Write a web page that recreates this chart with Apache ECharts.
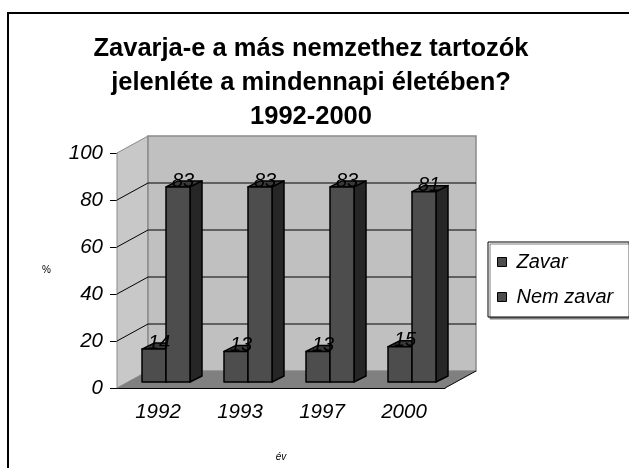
<!DOCTYPE html>
<html>
<head>
<meta charset="utf-8">
<script src="https://cdn.jsdelivr.net/npm/echarts@6/dist/echarts.min.js"></script>
<style>html,body{margin:0;padding:0;background:#fff}#chart{width:629px;height:468px}</style>
</head>
<body>
<div id="chart"></div>
<script>
const years = ['1992', '1993', '1997', '2000']
const zavar = [14, 13, 13, 15]
const nemZavar = [83, 83, 83, 81]
const gridValues = [20, 40, 60, 80]

const FONT = '"Liberation Sans", Arial, sans-serif'
// fake 3d: wall depth and bar depth in px
const DX = 31, DY = -17
const BDX = 12, BDY = -6
const BW = 24
const SHIFT_X = 8, SHIFT_Y = -6

function wallItem(params, api) {
  const cs = params.coordSys
  const x0 = cs.x, x1 = cs.x + cs.width
  const yT = cs.y, yB = cs.y + cs.height
  const children = [
    { type: 'polygon', shape: { points: [[x0, yT], [x0 + DX, yT + DY], [x0 + DX, yB + DY], [x0, yB]] },
      style: { fill: '#c8c8c8', stroke: '#8a8a8a', lineWidth: 1 } },
    { type: 'rect', shape: { x: x0 + DX, y: yT + DY, width: cs.width, height: cs.height },
      style: { fill: '#c0c0c0', stroke: '#8a8a8a', lineWidth: 1.5 } },
    { type: 'polygon', shape: { points: [[x0, yB], [x1, yB], [x1 + DX, yB + DY], [x0 + DX, yB + DY]] },
      style: { fill: '#808080' } },
    { type: 'line', shape: { x1: x1, y1: yB, x2: x1 + DX, y2: yB + DY }, style: { stroke: '#000', lineWidth: 1 } }
  ]
  gridValues.forEach(v => {
    const y = api.coord([0, v])[1]
    children.push({
      type: 'polyline',
      shape: { points: [[x0, y], [x0 + DX, y + DY], [x1 + DX, y + DY]] },
      style: { stroke: '#000', lineWidth: 1, fill: null }
    })
  })
  return { type: 'group', children }
}

function barLeft(api, side) {
  const cat = api.value(0)
  const base = api.coord([cat, 0])
  const top = api.coord([cat, api.value(1)])
  return {
    xl: base[0] + SHIFT_X + (side === 0 ? -BW : 0),
    yb: base[1] + SHIFT_Y,
    yt: top[1] + SHIFT_Y
  }
}

function barItem(side) {
  return function (params, api) {
    const { xl, yb, yt } = barLeft(api, side)
    const edge = { stroke: '#000', lineWidth: 1.5, lineJoin: 'round' }
    return {
      type: 'group',
      children: [
        { type: 'polygon',
          shape: { points: [[xl + BW, yt], [xl + BW + BDX, yt + BDY], [xl + BW + BDX, yb + BDY], [xl + BW, yb]] },
          style: { fill: '#262626', ...edge } },
        { type: 'polygon',
          shape: { points: [[xl, yt], [xl + BW, yt], [xl + BW + BDX, yt + BDY], [xl + BDX, yt + BDY]] },
          style: { fill: '#3a3a3a', ...edge } },
        { type: 'rect', shape: { x: xl, y: yt, width: BW, height: yb - yt },
          style: { fill: '#4d4d4d', ...edge } }
      ]
    }
  }
}

function labelItem(params, api) {
  const side = api.value(2)
  const { xl, yt } = barLeft(api, side)
  return {
    type: 'text',
    style: {
      x: xl + BW / 2 + 5, y: yt - 6,
      text: String(api.value(1)),
      align: 'center', verticalAlign: 'middle',
      font: 'italic 20px ' + FONT, fill: '#000'
    }
  }
}

const labelData = zavar.map((v, i) => [i, v, 0]).concat(nemZavar.map((v, i) => [i, v, 1]))

const chart = echarts.init(document.getElementById('chart'))
chart.setOption({
  animation: false,
  backgroundColor: '#fff',
  title: {
    text: 'Zavarja-e a más nemzethez tartozók\njelenléte a mindennapi életében?\n1992-2000',
    left: 306,
    top: 27,
    textAlign: 'center',
    textStyle: { fontFamily: FONT, fontSize: 25.5, fontWeight: 'bold', lineHeight: 34, color: '#000' }
  },
  graphic: [{
    type: 'rect',
    shape: { x: 8, y: 13, width: 700, height: 500 },
    style: { fill: null, stroke: '#000', lineWidth: 2 },
    silent: true
  }],
  legend: {
    data: ['Zavar', 'Nem zavar'],
    orient: 'vertical',
    left: 488,
    top: 242,
    padding: [10, 16, 10, 9],
    itemGap: 15,
    itemWidth: 9,
    itemHeight: 9,
    icon: 'rect',
    itemStyle: { borderColor: '#000', borderWidth: 1 },
    textStyle: { fontFamily: FONT, fontSize: 20, fontStyle: 'italic', color: '#000', lineHeight: 20, padding: [0, 0, 0, 5] },
    borderColor: '#000',
    borderWidth: 1,
    backgroundColor: '#fff',
    shadowColor: '#808080',
    shadowOffsetX: 2,
    shadowOffsetY: 2,
    shadowBlur: 0
  },
  grid: { left: 117, right: 184, top: 153, bottom: 80 },
  xAxis: {
    type: 'category',
    data: years,
    name: 'év',
    nameLocation: 'middle',
    nameGap: 64,
    nameTextStyle: { fontFamily: FONT, fontSize: 10, fontStyle: 'italic', color: '#000' },
    axisLine: { lineStyle: { color: '#000', width: 1 } },
    axisTick: { length: 5, lineStyle: { color: '#000' } },
    axisLabel: { fontFamily: FONT, fontSize: 20.5, fontStyle: 'italic', color: '#000', margin: 14 },
    splitLine: { show: false }
  },
  yAxis: {
    type: 'value',
    min: 0,
    max: 100,
    interval: 20,
    name: '%',
    nameLocation: 'middle',
    nameGap: 66,
    nameRotate: 0,
    nameTextStyle: { fontFamily: FONT, fontSize: 10, color: '#000' },
    axisLine: { show: true, lineStyle: { color: '#000', width: 1 } },
    axisTick: { show: true, length: 7, lineStyle: { color: '#000' } },
    axisLabel: { fontFamily: FONT, fontSize: 20.5, fontStyle: 'italic', color: '#000', margin: 14 },
    splitLine: { show: false }
  },
  series: [
    { type: 'custom', name: 'walls', z: 1, silent: true, renderItem: wallItem, data: [[0, 0]] },
    { type: 'custom', name: 'Zavar', z: 2, itemStyle: { color: '#4d4d4d' },
      renderItem: barItem(0), data: zavar.map((v, i) => [i, v]) },
    { type: 'custom', name: 'Nem zavar', z: 3, itemStyle: { color: '#4d4d4d' },
      renderItem: barItem(1), data: nemZavar.map((v, i) => [i, v]) },
    { type: 'custom', name: 'labels', z: 4, silent: true, renderItem: labelItem, data: labelData }
  ]
})
</script>
</body>
</html>
